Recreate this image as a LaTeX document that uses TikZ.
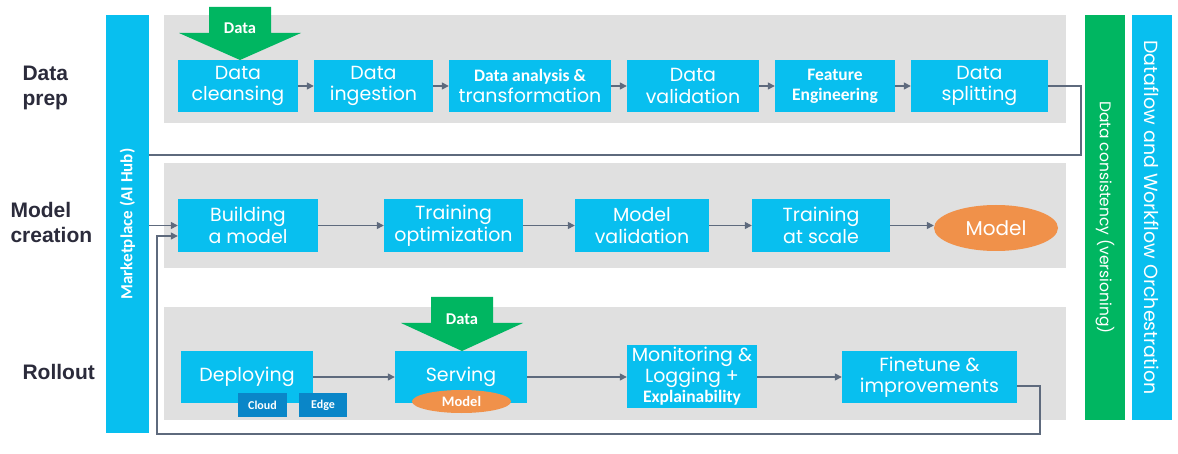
\documentclass[tikz,border=0pt]{standalone}
\usepackage{fontspec}
\newfontfamily\gothic{Poppins}
\newfontfamily\calib{Carlito}
\newfontfamily\arialf{Liberation Sans}
\usetikzlibrary{arrows.meta,shapes.geometric}
\definecolor{cyanbox}{HTML}{08BFEF}
\definecolor{greenc}{HTML}{00B661}
\definecolor{grayp}{HTML}{E0E0E0}
\definecolor{orangec}{HTML}{F0914A}
\definecolor{darkblue}{HTML}{0A86C8}
\definecolor{connc}{HTML}{5E6A7D}
\definecolor{labc}{HTML}{2B2B3B}
\begin{document}
\begin{tikzpicture}[x=1pt,y=-1pt,
  panel/.style={fill=grayp, inner sep=0pt},
  box/.style={fill=cyanbox, text=white, inner sep=0pt, align=center, font=\gothic\fontsize{19}{21.5}\selectfont},
  sz/.style 2 args={minimum width=#1, minimum height=#2},
  boldtxt/.style={font=\calib\bfseries\fontsize{17.5}{20}\selectfont},
  smallbox/.style={fill=darkblue, text=white, inner sep=0pt, font=\calib\bfseries\fontsize{12}{14}\selectfont},
  modelell/.style={ellipse, fill=orangec, text=white, inner sep=0pt},
  bar/.style={inner sep=0pt, text=white, align=center},
  lab/.style={anchor=west, align=left, text=labc, font=\arialf\bfseries\fontsize{21}{25}\selectfont},
  conn/.style={draw=connc, line width=1.4pt},
  arr/.style={conn, -{Triangle[length=7pt,width=7pt]}},
  datatxt/.style={text=white, font=\calib\bfseries\fontsize{16.5}{18}\selectfont}
]
\useasboundingbox (0,0) rectangle (1178,454);
\fill[white] (0,0) rectangle (1178,454);

% panels
\node[panel, sz={902pt}{108pt}] (p1) at (615,69) {};
\node[panel, sz={902pt}{105pt}] (p2) at (615,215.5) {};
\node[panel, sz={902pt}{113pt}] (p3) at (615,363.5) {};

% side bars
\node[bar, fill=cyanbox, rotate=90, sz={418pt}{43pt}, font=\calib\bfseries\fontsize{17}{19}\selectfont] (mk) at (127.5,224) {Marketplace (AI Hub)};
\node[bar, fill=greenc, rotate=-90, sz={405pt}{40pt}, font=\gothic\fontsize{15.5}{17}\selectfont] (dcv) at (1105,217.5) {Data consistency (versioning)};
\node[bar, fill=cyanbox, rotate=-90, sz={405pt}{40pt}, font=\gothic\fontsize{19}{21}\selectfont] (dwo) at (1152,217.5) {Dataflow and Workflow Orchestration};

% row labels
\node[lab] (l1) at (19,88) {Data\\prep};
\node[lab] (l2) at (7,222) {Model\\creation};
\node[lab] (l3) at (19,372) {Rollout};

% row 1
\node[box, sz={120pt}{52pt}] (dc) at (238,86) {Data\\cleansing};
\node[box, sz={119pt}{52pt}] (di) at (373.5,86) {Data\\ingestion};
\node[box, sz={162pt}{52pt}] (da) at (530,86) {{\calib\bfseries\fontsize{17.5}{19}\selectfont Data analysis \&}\\transformation};
\node[box, sz={132pt}{52pt}] (dv) at (693,86) {Data\\validation};
\node[box, sz={120pt}{52pt}, boldtxt] (fe) at (835,86) {Feature\\Engineering};
\node[box, sz={137pt}{52pt}] (ds) at (979.5,86) {Data\\splitting};

% green arrow 1
\fill[greenc] (209,7) -- (271,7) -- (271,33) -- (301,33) -- (240,60) -- (179,33) -- (209,33) -- cycle;
\node[datatxt] (g1) at (240,28) {Data};

% row 2
\node[box, sz={140pt}{53pt}] (bm) at (248,225.5) {Building\\a model};
\node[box, sz={139pt}{53pt}] (to) at (453.5,225.5) {Training\\optimization};
\node[box, sz={134pt}{53pt}] (mv) at (642,225.5) {Model\\validation};
\node[box, sz={138pt}{53pt}] (ts) at (821,225.5) {Training\\at scale};
\node[modelell, sz={124pt}{46pt}, font=\gothic\fontsize{20}{22}\selectfont] (mo) at (996,228) {Model};

% row 3
\node[box, sz={132pt}{52pt}] (dep) at (247,377) {Deploying};
\node[smallbox, sz={49pt}{24pt}] (cl) at (262.5,405) {Cloud};
\node[smallbox, sz={48pt}{24pt}] (ed) at (323,405) {Edge};
\node[box, sz={132pt}{52pt}] (sv) at (461,377) {Serving};
\node[modelell, sz={99pt}{23pt}, font=\calib\bfseries\fontsize{14.5}{16}\selectfont] (mo2) at (461.5,401.5) {Model};
\node[box, sz={130pt}{63pt}, font=\gothic\fontsize{19}{20.5}\selectfont] (mon) at (692,376.5) {Monitoring \&\\Logging +\\{\calib\bfseries\fontsize{17.5}{18}\selectfont Explainability}};
\node[box, sz={175pt}{52pt}] (fin) at (929.5,377) {Finetune \&\\improvements};

% green arrow 2
\fill[greenc] (431,297) -- (493,297) -- (493,323) -- (523,323) -- (462,351) -- (401,323) -- (431,323) -- cycle;
\node[datatxt] (g2) at (462,319) {Data};

% connectors row 1
\draw[arr] (dc) -- (di);
\draw[arr] (di) -- (da);
\draw[arr] (da) -- (dv);
\draw[arr] (dv) -- (fe);
\draw[arr] (fe) -- (ds);
\coordinate (t1) at (1081,86);
\coordinate (t2) at (1081,155);
\draw[conn] (ds.east) -- (t1) -- (t2) -- (mk.south |- t2);

% row 2
\draw[arr] (mk.south |- bm.west) -- (bm.west);
\draw[arr] (bm) -- (to);
\draw[arr] (to) -- (mv);
\draw[arr] (mv) -- (ts);
\draw[arr] (ts.east) -- (ts.east -| mo.west);

% row 3
\draw[arr] (dep) -- (sv);
\draw[arr] (sv) -- (mon.west |- sv.east);
\draw[arr] (mon.east |- fin.west) -- (fin);
\coordinate (b0) at (1017,386);
\coordinate (b1) at (1040,386);
\coordinate (b2) at (1040,434);
\coordinate (b3) at (157,434);
\coordinate (b4) at (157,236);
\draw[arr] (b0) -- (b1) -- (b2) -- (b3) -- (b4) -- (bm.west |- b4);
\end{tikzpicture}
\end{document}
